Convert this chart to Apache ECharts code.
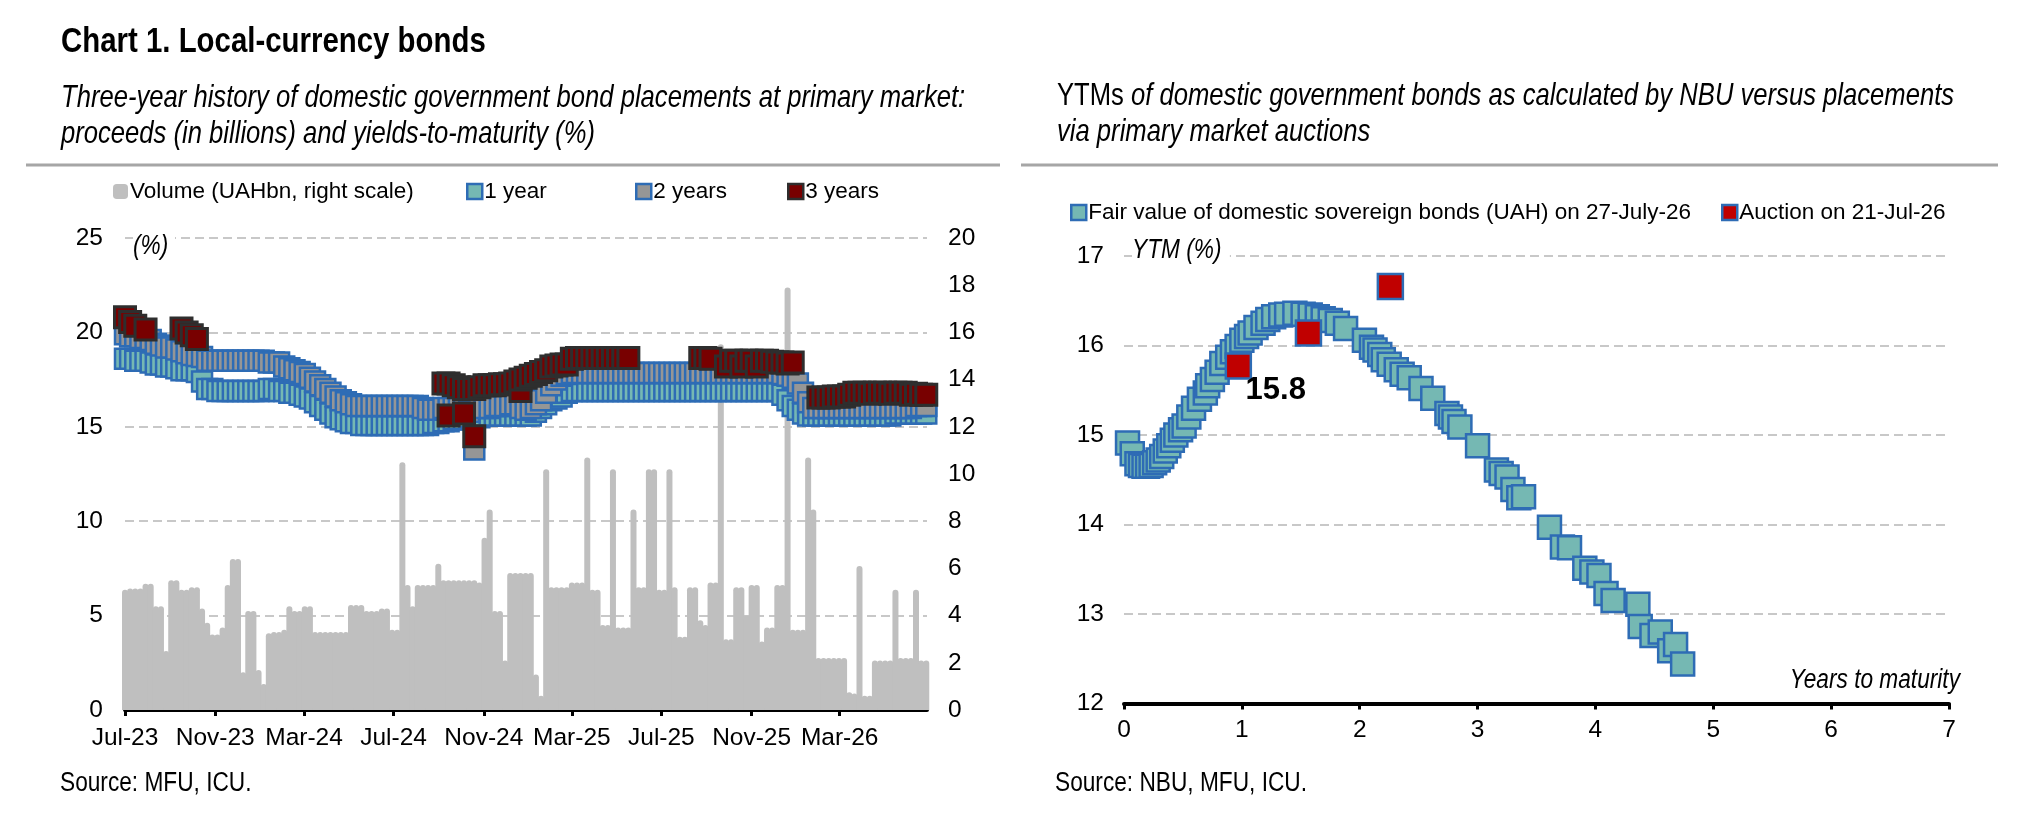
<!DOCTYPE html>
<html>
<head>
<meta charset="utf-8">
<title>Chart 1. Local-currency bonds</title>
<script src="https://cdn.jsdelivr.net/npm/echarts@6/dist/echarts.min.js"></script>
<style>
  html, body { margin: 0; padding: 0; background: #fff; }
  #chart { width: 2022px; height: 825px; }
</style>
</head>
<body>
<div id="chart"></div>
<script>
// ---- data ----
// left chart: weekly primary auctions, week 0 = 25-Jul-2023
var firstAuction = '2023-07-25';
var tickMonths = ['2023-07-25', '2023-11-25', '2024-03-25', '2024-07-25', '2024-11-25', '2025-03-25', '2025-07-25', '2025-11-25', '2026-03-25'];
var tickLabels = ['Jul-23', 'Nov-23', 'Mar-24', 'Jul-24', 'Nov-24', 'Mar-25', 'Jul-25', 'Nov-25', 'Mar-26'];

// proceeds, UAH bn (right scale)
var volume = [
  5.1, 5.15, 5.15, 5.15, 5.35, 5.35, 4.4, 4.4, 2.5, 5.5,
  5.5, 5.1, 5.1, 5.2, 5.2, 4.3, 3.7, 3.2, 3.2, 3.5,
  5.3, 6.4, 6.4, 1.6, 4.2, 4.2, 1.7, 1.1, 3.25, 3.3,
  3.3, 3.4, 4.4, 4.2, 4.2, 4.4, 4.4, 3.3, 3.3, 3.3,
  3.3, 3.3, 3.3, 3.3, 4.45, 4.45, 4.45, 4.2, 4.2, 4.2,
  4.3, 4.3, 3.4, 3.4, 10.5, 5.3, 4.4, 5.3, 5.3, 5.3,
  5.3, 6.2, 5.5, 5.5, 5.5, 5.5, 5.5, 5.5, 5.5, 5.4,
  7.3, 8.5, 4.2, 4.2, 2.1, 5.8, 5.8, 5.8, 5.8, 5.8,
  1.5, 0.6, 10.2, 5.2, 5.2, 5.2, 5.2, 5.4, 5.4, 5.4,
  10.7, 5.1, 5.1, 3.6, 3.6, 10.2, 3.5, 3.5, 3.5, 8.5,
  5.2, 5.2, 10.2, 10.2, 5.1, 5.1, 10.2, 5.2, 3.1, 3.1,
  5.2, 5.2, 3.8, 3.6, 5.4, 5.4, 15.5, 3.0, 3.0, 5.2,
  5.2, 4.0, 5.3, 5.3, 2.9, 3.5, 3.5, 5.3, 5.3, 17.9,
  3.4, 3.4, 3.4, 10.7, 8.5, 2.2, 2.2, 2.2, 2.2, 2.2,
  2.2, 0.75, 0.7, 6.1, 0.6, 0.6, 2.1, 2.1, 2.1, 2.1,
  5.1, 2.2, 2.2, 2.2, 5.1, 2.1, 2.1
];

// YTM of 1-year bonds, %
var ytm1y = [
  18.6, 18.6, 18.5, 18.5, 18.5, 18.4, 18.3, 18.3, 18.2, 18.2,
  18.1, 18.0, 18.0, 18.0, 17.9, 17.4, 17.0, 17.0, 16.9, 16.9,
  16.9, 16.9, 16.9, 16.9, 16.9, 16.9, 16.9, 16.9, 17.0, 17.0,
  16.9, 16.9, 16.8, 16.8, 16.7, 16.6, 16.5, 16.3, 16.1, 15.9,
  15.7, 15.5, 15.4, 15.3, 15.2, 15.2, 15.1, 15.1, 15.1, 15.1,
  15.1, 15.1, 15.1, 15.1, 15.1, 15.1, 15.1, 15.1, 15.1, 15.1,
  15.2, 15.2, 15.3, 15.3, 15.4, 15.4, 15.4, 15.5, 15.5, 15.5,
  15.6, 15.6, 15.6, 15.6, 15.6, 15.6, 15.6, 15.6, 15.6, 15.6,
  15.8, 16.0, 16.2, 16.4, 16.5, 16.6, 16.8, 16.9, 16.9, 16.9,
  16.9, 16.9, 16.9, 16.9, 16.9, 16.9, 16.9, 16.9, 16.9, 16.9,
  16.9, 16.9, 16.9, 16.9, 16.9, 16.9, 16.9, 16.9, 16.9, 16.9,
  16.9, 16.9, 16.9, 16.9, 16.9, 16.9, 16.9, 16.9, 16.9, 16.9,
  16.9, 16.9, 16.9, 16.9, 16.9, 16.9, 16.9, 16.9, 16.7, 16.4,
  16.1, 15.9, 15.7, 15.6, 15.6, 15.6, 15.6, 15.6, 15.6, 15.6,
  15.6, 15.6, 15.6, 15.6, 15.6, 15.6, 15.6, 15.6, 15.6, 15.6,
  15.7, 15.7, 15.7, 15.7, 15.7, 15.7, 15.7
];

// YTM of 2-year bonds, %
var ytm2y = [
  19.9, 19.8, 19.8, 19.7, 19.7, 19.6, 19.4, 19.3, 19.2, 19.2,
  19.1, 19.0, 18.9, 18.8, 18.75, 18.7, 18.5, 18.5, 18.5, 18.5,
  18.5, 18.5, 18.5, 18.5, 18.5, 18.5, 18.5, 18.5, 18.4, 18.4,
  18.4, 18.2, 18.1, 18.0, 17.9, 17.8, 17.6, 17.4, 17.2, 17.0,
  16.8, 16.6, 16.4, 16.3, 16.2, 16.1, 16.1, 16.1, 16.1, 16.1,
  16.1, 16.1, 16.1, 16.1, 16.1, 16.1, 16.1, 16.1, 16.0, 15.9,
  15.9, 15.9, 16.0, 16.0, 16.0, 16.0, 16.0, 15.8, 13.8, 16.0,
  16.0, 16.0, 16.1, 16.1, 16.1, 16.2, 16.2, 16.0, 15.9, 16.0,
  16.2, 16.4, 16.8, 17.2, 17.5, 17.7, 17.8, 17.85, 17.85, 17.85,
  17.85, 17.85, 17.85, 17.85, 17.85, 17.85, 17.85, 17.85, 17.85, 17.85,
  17.85, 17.85, 17.85, 17.85, 17.85, 17.85, 17.85, 17.85, 17.85, 17.85,
  17.85, 17.85, 17.85, 17.85, 17.85, 17.85, 17.85, 17.85, 17.85, 17.85,
  17.85, 17.85, 17.85, 17.85, 17.85, 17.85, 17.85, 17.85, 17.8, 17.7,
  17.6, 17.3, 16.8, 16.3, 16.0, 16.0, 16.0, 16.0, 16.0, 16.0,
  16.0, 16.0, 16.0, 16.0, 16.0, 16.0, 16.0, 16.0, 16.0, 16.0,
  16.0, 16.0, 16.0, 16.0, 16.1, 16.1, 16.1
];

// 3-year bonds were placed only in some weeks
var weeks3y = [
  0, 1, 2, 4, 11, 12, 13, 14,
  62, 63, 63, 64, 65, 66, 66, 67, 68, 68, 69, 70, 71, 72, 73, 74, 75, 76, 77, 77, 78, 79,
  80, 81, 82, 83, 84, 85, 86, 87, 88, 89, 90, 91, 92, 93, 94, 95, 96, 97, 98,
  112, 113, 114, 117, 118, 119, 120, 121, 122, 123, 124, 125, 126, 127, 128, 129, 130,
  135, 136, 137, 138, 139, 140, 141, 142, 143, 144, 145, 146, 147, 148, 149, 150, 151, 152, 153, 154, 155, 156
];
var ytm3y = [
  20.8, 20.55, 20.35, 20.15, 20.2, 20.0, 19.85, 19.65,
  17.3, 17.3, 15.6, 17.2, 17.1, 17.0, 15.7, 17.0, 17.0, 14.5, 17.1, 17.2, 17.2, 17.2, 17.25, 17.25, 17.3, 17.4, 16.9, 17.5, 17.6, 17.7,
  17.8, 17.9, 18.0, 18.2, 18.25, 18.3, 18.3, 18.6, 18.65, 18.65, 18.65, 18.65, 18.65, 18.65, 18.65, 18.65, 18.65, 18.65, 18.65,
  18.65, 18.65, 18.6, 18.2, 18.5, 18.5, 18.2, 18.5, 18.5, 18.2, 18.5, 18.5, 18.45, 18.4, 18.4, 18.35, 18.4,
  16.55, 16.55, 16.55, 16.6, 16.6, 16.6, 16.7, 16.8, 16.8, 16.8, 16.75, 16.8, 16.8, 16.8, 16.75, 16.8, 16.8, 16.8, 16.7, 16.75, 16.7, 16.7
];

// right chart: NBU fair-value curve and auction results
var fairYears = [
  0.03, 0.07, 0.11, 0.14, 0.17, 0.20, 0.23, 0.26, 0.29, 0.32,
  0.35, 0.38, 0.41, 0.44, 0.48, 0.51, 0.55, 0.59, 0.64, 0.69,
  0.71, 0.75, 0.79, 0.83, 0.88, 0.92, 0.96, 1.00, 1.04, 1.07,
  1.12, 1.18, 1.22, 1.27, 1.33, 1.38, 1.45, 1.52, 1.58, 1.64,
  1.69, 1.75, 1.81, 1.88, 2.04, 2.10, 2.13, 2.17, 2.20, 2.25,
  2.31, 2.36, 2.42, 2.52, 2.62, 2.74, 2.77, 2.80, 2.85, 3.00,
  3.16, 3.20, 3.25, 3.30, 3.35, 3.39, 3.61, 3.72, 3.78, 3.91,
  3.97, 4.03, 4.09, 4.15, 4.36, 4.38, 4.48, 4.55, 4.63, 4.68,
  4.74
];
var fairYtm = [
  14.91, 14.79, 14.68, 14.66, 14.65, 14.65, 14.66, 14.69, 14.72, 14.76,
  14.82, 14.88, 14.94, 15.00, 15.06, 15.10, 15.20, 15.30, 15.40, 15.47,
  15.55, 15.62, 15.70, 15.80, 15.87, 15.93, 15.99, 16.06, 16.10, 16.14,
  16.20, 16.25, 16.29, 16.32, 16.34, 16.35, 16.36, 16.35, 16.34, 16.32,
  16.30, 16.28, 16.25, 16.19, 16.06, 15.98, 15.95, 15.90, 15.84, 15.79,
  15.73, 15.68, 15.64, 15.52, 15.41, 15.24, 15.20, 15.15, 15.09, 14.88,
  14.61, 14.57, 14.53, 14.39, 14.30, 14.31, 13.97, 13.75, 13.74, 13.51,
  13.47, 13.43, 13.23, 13.15, 13.11, 12.86, 12.76, 12.80, 12.59, 12.66,
  12.44
];
var auctionYears = [0.97, 1.565, 2.26];
var auctionYtm = [15.77, 16.14, 16.66];
var auctionLabels = ['15.8', '', ''];

// ---- helpers ----
var FONT = '"Liberation Sans", Arial, sans-serif';
var NARROW = 0.84; // free texts are squeezed to look like a condensed face
var DAY = 86400000;
var t0 = Date.parse(firstAuction);

function dayOf(s) {
  return Math.round((Date.parse(s) - t0) / DAY);
}
var tickDays = tickMonths.map(dayOf);

function weekly(arr) {
  return arr.map(function (v, i) { return [i * 7, v]; });
}
function pairs(xs, ys) {
  return xs.map(function (x, i) { return [x, ys[i]]; });
}

var TEAL = '#75B8B3';
var BLUE = '#2E6CB5';
var GREY2 = '#969696';
var MAROON = '#780000';
var DARK = '#2E2E2E';
var BAR = '#BFBFBF';
var GRID = '#C8C8C8';

var splitStyle = { show: true, lineStyle: { color: GRID, width: 2, type: [9, 5] } };
var labelStyle = { fontFamily: FONT, fontSize: 24.5, color: '#000' };

// text drawn with a horizontal squeeze
function txt(x, y, text, extra) {
  var st = { x: 0, y: 0, text: text, fontFamily: FONT, fontSize: 27, fill: '#000', verticalAlign: 'middle' };
  for (var k in extra) st[k] = extra[k];
  return { type: 'text', x: x, y: y, scaleX: NARROW, z: 100, style: st, silent: true };
}

function legendBox(left, top, name, style, icon) {
  return {
    left: left, top: top, padding: 0, itemWidth: 15, itemHeight: 15,
    selectedMode: false,
    textStyle: { fontFamily: FONT, fontSize: 22.5, color: '#000', padding: [0, 0, 0, -3] },
    data: [{ name: name, icon: icon || 'rect', itemStyle: style }]
  };
}

var chart = echarts.init(document.getElementById('chart'), null, { renderer: 'canvas' });

var option = {
  animation: false,
  backgroundColor: '#fff',
  legend: [
    legendBox(113, 180, 'Volume (UAHbn, right scale)', { color: BAR, borderWidth: 0 }, 'roundRect'),
    legendBox(466, 180, '1 year', { color: TEAL, borderColor: BLUE, borderWidth: 2.5 }),
    legendBox(635, 180, '2 years', { color: GREY2, borderColor: BLUE, borderWidth: 2.5 }),
    legendBox(787, 180, '3 years', { color: MAROON, borderColor: DARK, borderWidth: 2.5 }),
    legendBox(1070, 201, 'Fair value of domestic sovereign bonds (UAH) on 27-July-26', { color: TEAL, borderColor: BLUE, borderWidth: 2.5 }),
    legendBox(1721, 201, 'Auction on 21-Jul-26', { color: '#C00000', borderColor: BLUE, borderWidth: 2.5 })
  ],
  grid: [
    { left: 125, top: 238, width: 802, height: 472 },
    { left: 1124, top: 256, width: 825, height: 447.5 }
  ],
  xAxis: [
    {
      type: 'value', gridIndex: 0, min: 0, max: 1093,
      splitLine: { show: false },
      axisLine: { show: true, onZero: false, lineStyle: { color: '#000', width: 4 } },
      axisTick: { show: true, length: 6, customValues: tickDays, lineStyle: { color: '#000', width: 3 } },
      axisLabel: {
        margin: 16, customValues: tickDays, fontFamily: FONT, fontSize: 24.5, color: '#000',
        formatter: function (v) {
          var i = tickDays.indexOf(Math.round(v));
          return i < 0 ? '' : tickLabels[i];
        }
      }
    },
    {
      type: 'value', gridIndex: 1, min: 0, max: 7, interval: 1,
      splitLine: { show: false },
      axisLine: { show: true, onZero: false, lineStyle: { color: '#000', width: 4 } },
      axisTick: { show: true, length: 6, lineStyle: { color: '#000', width: 3 } },
      axisLabel: Object.assign({ margin: 14 }, labelStyle)
    }
  ],
  yAxis: [
    {
      type: 'value', gridIndex: 0, min: 0, max: 25, interval: 5, position: 'left',
      splitLine: splitStyle, axisLine: { show: false }, axisTick: { show: false },
      axisLabel: Object.assign({ margin: 22 }, labelStyle)
    },
    {
      type: 'value', gridIndex: 0, min: 0, max: 20, interval: 2, position: 'right',
      splitLine: { show: false }, axisLine: { show: false }, axisTick: { show: false },
      axisLabel: Object.assign({ margin: 21 }, labelStyle)
    },
    {
      type: 'value', gridIndex: 1, min: 12, max: 17, interval: 1,
      splitLine: splitStyle, axisLine: { show: false }, axisTick: { show: false },
      axisLabel: Object.assign({ margin: 20 }, labelStyle)
    }
  ],
  series: [
    {
      name: 'Volume (UAHbn, right scale)', type: 'bar', xAxisIndex: 0, yAxisIndex: 1,
      barWidth: 6, silent: true,
      itemStyle: { color: BAR, borderRadius: [3, 3, 0, 0] },
      data: weekly(volume)
    },
    {
      name: '1 year', type: 'scatter', xAxisIndex: 0, yAxisIndex: 0, clip: false, silent: true,
      symbol: 'rect', symbolSize: 20,
      itemStyle: { color: TEAL, borderColor: BLUE, borderWidth: 2.5, opacity: 1 },
      data: weekly(ytm1y)
    },
    {
      name: '2 years', type: 'scatter', xAxisIndex: 0, yAxisIndex: 0, clip: false, silent: true,
      symbol: 'rect', symbolSize: 20,
      itemStyle: { color: GREY2, borderColor: BLUE, borderWidth: 2.5, opacity: 1 },
      data: weekly(ytm2y)
    },
    {
      name: '3 years', type: 'scatter', xAxisIndex: 0, yAxisIndex: 0, clip: false, silent: true,
      symbol: 'rect', symbolSize: 21,
      itemStyle: { color: MAROON, borderColor: DARK, borderWidth: 3, opacity: 1 },
      data: pairs(weeks3y.map(function (w) { return w * 7; }), ytm3y)
    },
    {
      name: 'Fair value of domestic sovereign bonds (UAH) on 27-July-26', type: 'scatter',
      xAxisIndex: 1, yAxisIndex: 2, clip: false, silent: true,
      symbol: 'rect', symbolSize: 23,
      itemStyle: { color: TEAL, borderColor: BLUE, borderWidth: 2.5, opacity: 1 },
      data: pairs(fairYears, fairYtm)
    },
    {
      name: 'Auction on 21-Jul-26', type: 'scatter',
      xAxisIndex: 1, yAxisIndex: 2, clip: false, silent: true,
      symbol: 'rect', symbolSize: 25,
      itemStyle: { color: '#C00000', borderColor: BLUE, borderWidth: 2.5, opacity: 1 },
      label: {
        show: true, position: [21, 38], align: 'left', verticalAlign: 'middle',
        fontFamily: FONT, fontSize: 31, fontWeight: 'bold', color: '#000',
        formatter: function (p) { return auctionLabels[p.dataIndex]; }
      },
      data: pairs(auctionYears, auctionYtm)
    }
  ],
  graphic: [
    txt(61, 42, 'Chart 1. Local-currency bonds', { fontSize: 35, fontWeight: 'bold' }),
    txt(61, 99, 'Three-year history of domestic government bond placements at primary market:', { fontSize: 30.5, fontStyle: 'italic' }),
    txt(61, 135, 'proceeds (in billions) and yields-to-maturity (%)', { fontSize: 30.5, fontStyle: 'italic' }),
    {
      type: 'text', x: 1057, y: 97, scaleX: NARROW, z: 100, silent: true,
      style: {
        x: 0, y: 0, verticalAlign: 'middle', fill: '#000',
        text: '{u|YTMs}{i| of domestic government bonds as calculated by NBU versus placements}',
        rich: {
          u: { fontFamily: FONT, fontSize: 30.5, fontStyle: 'normal' },
          i: { fontFamily: FONT, fontSize: 30.5, fontStyle: 'italic' }
        }
      }
    },
    txt(1057, 133, 'via primary market auctions', { fontSize: 30.5, fontStyle: 'italic' }),
    { type: 'line', z: 100, silent: true, shape: { x1: 26, y1: 165, x2: 1000, y2: 165 }, style: { stroke: '#A6A6A6', lineWidth: 3 } },
    { type: 'line', z: 100, silent: true, shape: { x1: 1021, y1: 165, x2: 1998, y2: 165 }, style: { stroke: '#A6A6A6', lineWidth: 3 } },
    txt(133, 246, '(%)', { fontStyle: 'italic', backgroundColor: '#fff', padding: [2, 8, 2, 0] }),
    txt(1132, 250, 'YTM (%)', { fontStyle: 'italic', backgroundColor: '#fff', padding: [2, 10, 2, 0] }),
    txt(1960, 680, 'Years to maturity', { fontStyle: 'italic', align: 'right' }),
    txt(60, 784, 'Source: MFU, ICU.', { fontSize: 27 }),
    txt(1055, 784, 'Source: NBU, MFU, ICU.', { fontSize: 27 })
  ]
};

chart.setOption(option);
</script>
</body>
</html>
